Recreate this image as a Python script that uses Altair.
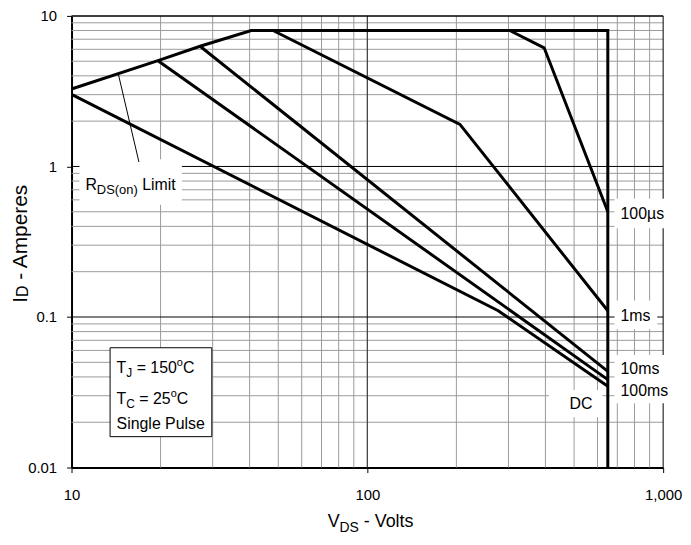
import altair as alt
import pandas as pd

# ---------------- data ----------------
limit_v = [10, 19.6, 27.2, 40.5, 650, 650]
limit_i = [3.27, 5.04, 6.29, 8.0, 8.0, 0.01]
us100_v = [303, 396, 650]
us100_i = [8.0, 6.14, 0.50]
ms1_v = [48, 205.6, 650]
ms1_i = [8.0, 1.905, 0.110]
ms10_v = [27.2, 650]
ms10_i = [6.29, 0.0435]
ms100_v = [19.6, 650]
ms100_i = [5.04, 0.0384]
dc_v = [10, 277, 650]
dc_i = [3.01, 0.110, 0.0347]
leader_v = [14.4, 16.9]
leader_i = [4.1, 1.07]

x_ticks = [10, 100, 1000]
y_ticks = [0.01, 0.1, 1, 10]
x_minor = [20, 30, 40, 50, 60, 70, 80, 90, 200, 300, 400, 500, 600, 700, 800, 900]
y_minor = [0.02, 0.03, 0.04, 0.05, 0.06, 0.07, 0.08, 0.09,
           0.2, 0.3, 0.4, 0.5, 0.6, 0.7, 0.8, 0.9,
           2, 3, 4, 5, 6, 7, 8, 9]

FONT = "Liberation Sans"

xs = alt.Scale(type="log", domain=[10, 1000], nice=False)
ys = alt.Scale(type="log", domain=[0.01, 10], nice=False)
x_axis = alt.Axis(values=x_ticks, format=",", title=None, grid=False, domainColor="black",
                  domainWidth=2, tickColor="black", tickSize=5, tickWidth=1, labelFont=FONT,
                  labelFontSize=15, labelColor="black", labelPadding=15, labelOverlap=False,
                  labelFlush=False)
y_axis = alt.Axis(values=y_ticks, format="~g", title=None, grid=False, domainColor="black",
                  domainWidth=2, tickColor="black", tickSize=5, tickWidth=1, labelFont=FONT,
                  labelFontSize=15, labelColor="black", labelPadding=10, labelOverlap=False,
                  labelFlush=False)
X = alt.X("v:Q", scale=xs, axis=x_axis)
Y = alt.Y("i:Q", scale=ys, axis=y_axis)

layers = []

# grid
layers.append(alt.Chart(pd.DataFrame({"v": x_minor})).mark_rule(color="#9a9a9a", strokeWidth=1).encode(x=X))
layers.append(alt.Chart(pd.DataFrame({"i": y_minor})).mark_rule(color="#9a9a9a", strokeWidth=1).encode(y=Y))
layers.append(alt.Chart(pd.DataFrame({"v": [100]})).mark_rule(color="#444444", strokeWidth=1.3).encode(x=X))
layers.append(alt.Chart(pd.DataFrame({"i": [0.1, 1]})).mark_rule(color="black", strokeWidth=1).encode(y=Y))
layers.append(alt.Chart(pd.DataFrame({"i": [10]})).mark_rule(color="black", strokeWidth=1.5).encode(y=Y))
layers.append(alt.Chart(pd.DataFrame({"v": [1000]})).mark_rule(color="black", strokeWidth=1).encode(x=X))

# white label boxes
box_label = ["rds", "us100", "ms1", "ms10_100", "dc"]
box_v1 = [10.64, 684.8, 684.8, 684.8, 411]
box_v2 = [23.6, 1064, 955, 1064, 623.7]
box_i1 = [1.117, 0.610, 0.1286, 0.0560, 0.0328]
box_i2 = [0.557, 0.388, 0.0830, 0.0267, 0.0216]
boxes = pd.DataFrame({"b": box_label, "v": box_v1, "v2": box_v2, "i": box_i1, "i2": box_i2})
layers.append(alt.Chart(boxes).mark_rect(fill="white").encode(
    x=X, x2="v2:Q", y=Y, y2="i2:Q"))
cond = pd.DataFrame({"v": [13.5], "v2": [29.8], "i": [0.0625], "i2": [0.01604]})
layers.append(alt.Chart(cond).mark_rect(fill="white", stroke="black", strokeWidth=1).encode(
    x=X, x2="v2:Q", y=Y, y2="i2:Q"))

# curves
rows = []
for name, vv, ii in [("limit", limit_v, limit_i), ("100us", us100_v, us100_i), ("1ms", ms1_v, ms1_i),
                     ("10ms", ms10_v, ms10_i), ("100ms", ms100_v, ms100_i), ("DC", dc_v, dc_i)]:
    for k, (a, b) in enumerate(zip(vv, ii)):
        rows.append({"s": name, "o": k, "v": a, "i": b})
curves = pd.DataFrame(rows)
layers.append(alt.Chart(curves).mark_line(color="black", strokeWidth=3, strokeJoin="miter",
                                          strokeCap="butt").encode(
    x=X, y=Y, detail="s:N", order="o:Q"))
layers.append(alt.Chart(pd.DataFrame({"v": leader_v, "i": leader_i})).mark_line(
    color="black", strokeWidth=1).encode(x=X, y=Y))

# text helpers
AW = {' ': 278, '-': 333, '=': 584, '(': 333, ')': 333, ',': 278, '.': 278, 'µ': 576,
      '0': 556, '1': 556, '2': 556, '3': 556, '4': 556, '5': 556, '6': 556, '7': 556, '8': 556, '9': 556,
      'A': 667, 'C': 722, 'D': 722, 'I': 278, 'J': 500, 'L': 556, 'P': 667, 'R': 722, 'S': 667,
      'T': 611, 'V': 667, 'a': 556, 'e': 556, 'g': 556, 'i': 222, 'l': 222, 'm': 833, 'n': 556,
      'o': 556, 'p': 556, 'r': 333, 's': 500, 't': 278, 'u': 556}


def tw(s, size):
    return sum(AW.get(c, 556) for c in s) * size / 1000.0


def rich(pieces, v=None, i=None, px=None, angle=None):
    out = []
    off = 0.0
    for text, size, dy in pieces:
        lead = len(text) - len(text.lstrip(" "))
        off += tw(" " * lead, size)
        t = text.lstrip(" ")
        df = pd.DataFrame({"v": [v if v is not None else 10], "i": [i if i is not None else 1], "t": [t]})
        kw = dict(align="left", baseline="alphabetic", dx=round(off, 2), dy=dy, fontSize=size,
                  font=FONT, color="black")
        if angle is not None:
            kw["angle"] = angle
        m = alt.Chart(df).mark_text(**kw)
        if px is not None:
            out.append(m.encode(x=alt.value(px[0]), y=alt.value(px[1]), text="t:N"))
        else:
            out.append(m.encode(x=X, y=Y, text="t:N"))
        off += tw(t, size)
    return out


# annotations
layers += rich([("R", 16, 0), ("DS(on)", 13, 4), (" Limit", 16, 0)], v=11.14, i=0.696)
layers += rich([("T", 16, 0), ("J", 12, 4), (" = 150", 16, 0), ("o", 11, -7), ("C", 16, 0)], v=14.2, i=0.04246)
layers += rich([("T", 16, 0), ("C", 12, 4), (" = 25", 16, 0), ("o", 11, -7), ("C", 16, 0)], v=14.2, i=0.0263)
layers += rich([("Single Pulse", 16, 0)], v=14.2, i=0.01803)
layers += rich([("100µs", 16, 0)], v=717.5, i=0.4462)
layers += rich([("1ms", 16, 0)], v=717.5, i=0.0941)
layers += rich([("10ms", 16, 0)], v=717.5, i=0.04204)
layers += rich([("100ms", 16, 0)], v=717.5, i=0.02996)
layers += rich([("DC", 16, 0)], v=482.7, i=0.0245)

# axis titles (pixel positions relative to plot origin)
layers += rich([("V", 18, 0), ("DS", 14, 5), (" - Volts", 18, 0)], px=(258, 515))
layers += rich([("I", 21, 0), ("D", 16, 1), (" - Amperes", 21, 0)], px=(-45, 289), angle=270)

chart = alt.layer(*layers).properties(
    width=596, height=455,
    autosize=alt.AutoSizeParams(type="none"),
    padding={"left": 64, "top": 6, "right": 20, "bottom": 70},
    background="white",
).configure_view(stroke=None)

chart.save("out.html", embed_options={"renderer": "svg", "actions": False})
